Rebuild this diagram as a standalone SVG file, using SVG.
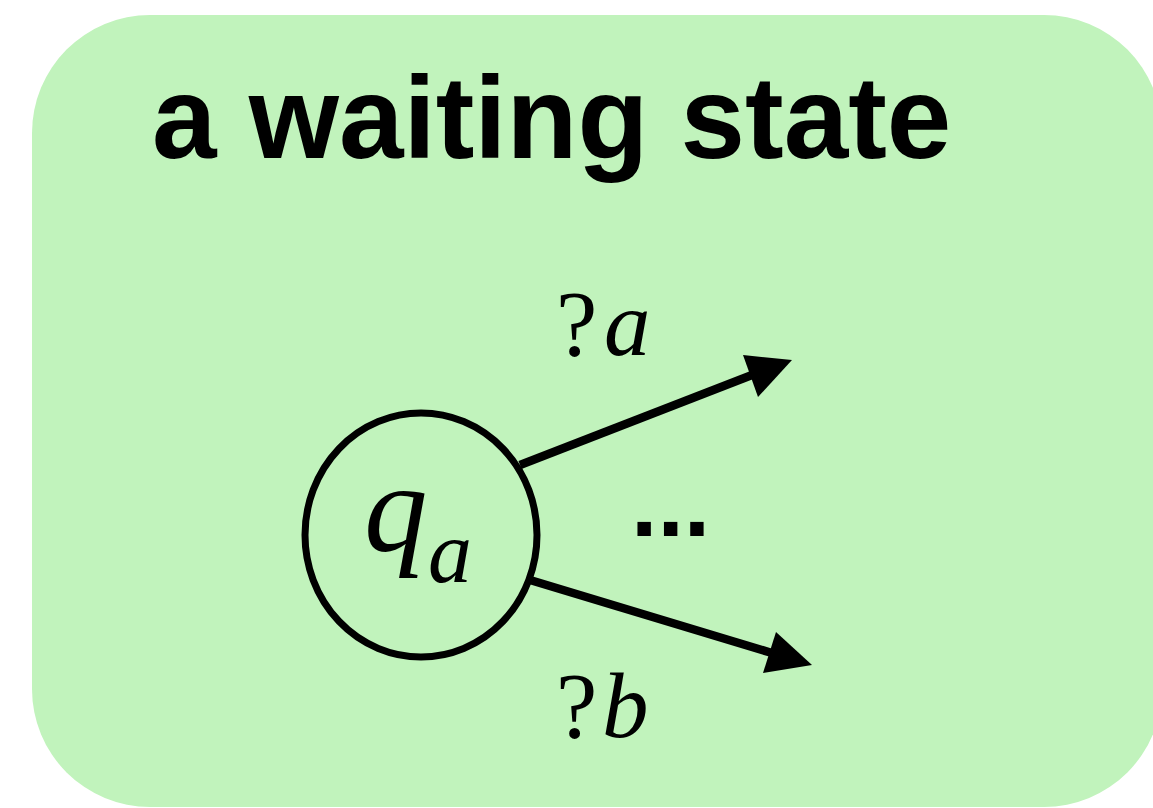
<svg xmlns="http://www.w3.org/2000/svg" width="1153" height="808" viewBox="0 0 1153 808">
<style>
.bg{fill:#c1f3bc}
.title{font-family:"Liberation Sans",Arial,sans-serif;font-weight:bold;font-size:116px;fill:#000}
.math{font-family:"Liberation Serif","Times New Roman",serif;fill:#000}
.it{font-style:italic}
.edge{stroke:#000;stroke-width:8.5;fill:none}
.head{fill:#000}
</style>
<rect class="bg" x="32" y="15" width="1130" height="792" rx="118" ry="118"/>
<g id="title"><text class="title" x="152" y="158">a waiting state</text></g>
<g id="qa">
<ellipse cx="421" cy="535" rx="116" ry="122" fill="none" stroke="#000" stroke-width="7"/>
<text class="math it" x="364" y="551" font-size="127">q<tspan x="428" y="582" font-size="88">a</tspan></text>
</g>
<g id="connectors">
<line class="edge" x1="520" y1="465" x2="752" y2="375"/>
<polygon class="head" points="792,360 743,355 758,397"/>
<line class="edge" x1="530" y1="580" x2="772" y2="653"/>
<polygon class="head" points="812,665 776,632 763,673"/>
</g>
<g id="label-a"><text class="math" x="556" y="355" font-size="93">?<tspan class="it" x="604">a</tspan></text></g>
<g id="label-b"><text class="math" x="556" y="737" font-size="93">?<tspan class="it" x="602">b</tspan></text></g>
<g id="dots"><text class="title" x="631" y="536" style="font-size:95px">...</text></g>
</svg>
